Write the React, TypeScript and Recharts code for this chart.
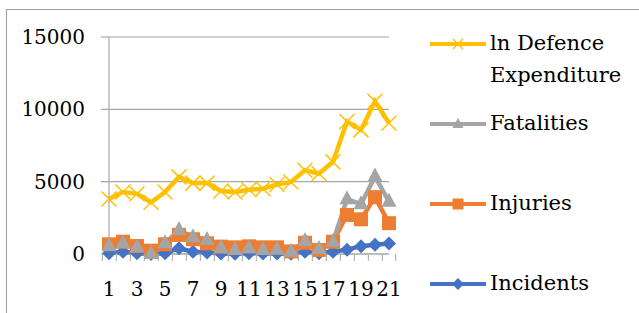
import React from 'react';
import { LineChart, Line, XAxis, YAxis, CartesianGrid } from 'recharts';

const years = [1, 2, 3, 4, 5, 6, 7, 8, 9, 10, 11, 12, 13, 14, 15, 16, 17, 18, 19, 20, 21];
const defence = [3800, 4280, 4160, 3580, 4280, 5330, 4900, 4900, 4350, 4280, 4440, 4510, 4810, 4980, 5790, 5560, 6370, 9160, 8580, 10560, 9050];
const fatalities = [550, 740, 460, 0, 740, 1660, 1160, 970, 390, 280, 390, 280, 290, 160, 900, 350, 850, 3790, 3440, 5360, 3620];
const injuries = [670, 850, 550, 230, 670, 1320, 1020, 740, 510, 460, 530, 460, 460, 180, 780, 280, 850, 2700, 2400, 3930, 2130];
const incidents = [50, 150, 50, 0, 50, 400, 150, 100, 30, 20, 60, 30, 40, 20, 150, 50, 150, 300, 540, 640, 720];
const yTicks = [0, 5000, 10000, 15000];

const data = years.map((y, i) => ({
  year: y,
  defence: defence[i],
  fatalities: fatalities[i],
  injuries: injuries[i],
  incidents: incidents[i],
}));

const FONT = '"DejaVu Serif", serif';
const GRID = '#a6a6a6';
const YELLOW = '#FFC000';
const GRAY = '#A5A5A5';
const ORANGE = '#ED7D31';
const BLUE = '#4472C4';

const AXIS_Y = 254;

const CrossDot = (props: any) => {
  const { cx, cy } = props;
  if (cx == null || cy == null) return null;
  const s = 7.5;
  return (
    <g stroke={YELLOW} strokeWidth={1.5}>
      <line x1={cx - s} y1={cy - s} x2={cx + s} y2={cy + s} />
      <line x1={cx - s} y1={cy + s} x2={cx + s} y2={cy - s} />
    </g>
  );
};

const TriDot = (props: any) => {
  const { cx, cy } = props;
  if (cx == null || cy == null) return null;
  return <path d={`M${cx},${cy - 9} L${cx + 7.5},${cy + 5} L${cx - 7.5},${cy + 5} Z`} fill={GRAY} />;
};

const SquareDot = (props: any) => {
  const { cx, cy } = props;
  if (cx == null || cy == null) return null;
  return <rect x={cx - 7} y={cy - 7} width={14} height={14} fill={ORANGE} />;
};

const DiamondDot = (props: any) => {
  const { cx, cy } = props;
  if (cx == null || cy == null) return null;
  return <path d={`M${cx},${cy - 7} L${cx + 7},${cy} L${cx},${cy + 7} L${cx - 7},${cy} Z`} fill={BLUE} />;
};

/* category ticks sit between categories, labels on odd years only */
const XTick = (props: any) => {
  const { x, index, payload } = props;
  const bw = 280 / years.length;
  return (
    <g>
      <line x1={x - bw / 2} y1={AXIS_Y} x2={x - bw / 2} y2={AXIS_Y + 7} stroke={GRID} />
      {index === years.length - 1 && (
        <line x1={x + bw / 2} y1={AXIS_Y} x2={x + bw / 2} y2={AXIS_Y + 7} stroke={GRID} />
      )}
      {index % 2 === 0 && (
        <text x={x} y={AXIS_Y + 42} textAnchor="middle" fontFamily={FONT} fontSize={20} fill="#000">
          {payload.value}
        </text>
      )}
    </g>
  );
};

const legendItems = [
  { lines: ['ln Defence', 'Expenditure'], color: YELLOW, marker: 'x', y: 44 },
  { lines: ['Fatalities'], color: GRAY, marker: 'tri', y: 124 },
  { lines: ['Injuries'], color: ORANGE, marker: 'sq', y: 204 },
  { lines: ['Incidents'], color: BLUE, marker: 'dia', y: 284 },
];

function LegendMarker({ marker, color }: { marker: string; color: string }) {
  const cx = 28;
  const cy = 8;
  let m: React.ReactNode = null;
  if (marker === 'x') {
    m = (
      <g stroke={color} strokeWidth={1.2}>
        <line x1={cx - 5} y1={cy - 5} x2={cx + 5} y2={cy + 5} />
        <line x1={cx - 5} y1={cy + 5} x2={cx + 5} y2={cy - 5} />
      </g>
    );
  } else if (marker === 'tri') {
    m = <path d={`M${cx},${cy - 6} L${cx + 5.5},${cy + 4} L${cx - 5.5},${cy + 4} Z`} fill={color} />;
  } else if (marker === 'sq') {
    m = <rect x={cx - 5.5} y={cy - 5.5} width={11} height={11} fill={color} />;
  } else {
    m = <path d={`M${cx},${cy - 6} L${cx + 6},${cy} L${cx},${cy + 6} L${cx - 6},${cy} Z`} fill={color} />;
  }
  return (
    <svg width={56} height={16} style={{ position: 'absolute', left: 0, top: 0 }}>
      <line x1={1} y1={cy} x2={55} y2={cy} stroke={color} strokeWidth={4} strokeLinecap="round" />
      {m}
    </svg>
  );
}

export default function App() {
  return (
    <div style={{ position: 'absolute', left: 0, top: 0, width: 639, height: 313, overflow: 'hidden', background: '#fff' }}>
      {/* outer chart frame */}
      <div
        style={{
          position: 'absolute',
          left: 6,
          top: 9,
          width: 700,
          height: 400,
          border: '1px solid #a0a0a0',
        }}
      />
      <div style={{ position: 'absolute', left: 0, top: 0 }}>
        <LineChart width={639} height={313} data={data} margin={{ top: 37, right: 250, bottom: 0, left: 0 }}>
          <CartesianGrid vertical={false} stroke={GRID} strokeWidth={1.2} />
          <XAxis
            dataKey="year"
            interval={0}
            height={313 - AXIS_Y}
            tickSize={0}
            tickMargin={0}
            axisLine={{ stroke: GRID, strokeWidth: 1.2 }}
            tickLine={false}
            tick={<XTick />}
          />
          <YAxis
            width={109}
            domain={[0, 15000]}
            ticks={yTicks}
            interval={0}
            tickSize={8}
            tickMargin={16}
            axisLine={{ stroke: GRID, strokeWidth: 1.2 }}
            tickLine={{ stroke: GRID, strokeWidth: 1.2 }}
            tick={{ fontFamily: FONT, fontSize: 20, fill: '#000' }}
          />
          <Line dataKey="incidents" stroke={BLUE} strokeWidth={4.5} dot={<DiamondDot />} activeDot={false} isAnimationActive={false} />
          <Line dataKey="injuries" stroke={ORANGE} strokeWidth={4.5} dot={<SquareDot />} activeDot={false} isAnimationActive={false} />
          <Line dataKey="fatalities" stroke={GRAY} strokeWidth={4.5} dot={<TriDot />} activeDot={false} isAnimationActive={false} />
          <Line dataKey="defence" stroke={YELLOW} strokeWidth={4.5} dot={<CrossDot />} activeDot={false} isAnimationActive={false} />
        </LineChart>
      </div>
      {legendItems.map((it) => (
        <div key={it.lines[0]} style={{ position: 'absolute', left: 430, top: it.y - 8, width: 209, height: 80 }}>
          <LegendMarker marker={it.marker} color={it.color} />
          <div
            style={{
              position: 'absolute',
              left: 60,
              top: -9,
              fontFamily: FONT,
              fontSize: 21,
              lineHeight: '32px',
              color: '#000',
              whiteSpace: 'nowrap',
            }}
          >
            {it.lines.map((l) => (
              <div key={l}>{l}</div>
            ))}
          </div>
        </div>
      ))}
    </div>
  );
}
